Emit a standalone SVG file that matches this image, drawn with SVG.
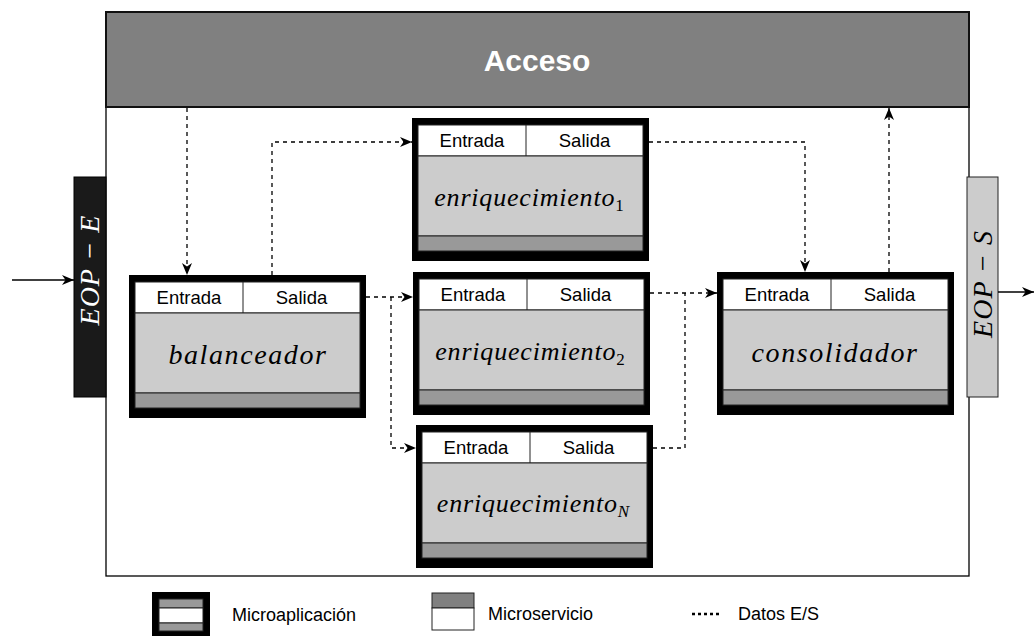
<svg xmlns="http://www.w3.org/2000/svg" width="1034" height="637" viewBox="0 0 1034 637">
<style>
.ma{fill:#000}
.hd{fill:#fff;stroke:#222;stroke-width:1}
.bd{fill:#ccc;stroke:#222;stroke-width:1}
.st{fill:#999;stroke:#222;stroke-width:1}
.io{font-family:"Liberation Sans",Arial,sans-serif;font-size:18.5px;fill:#000;text-anchor:middle}
.mt{font-family:"Liberation Serif","Times New Roman",serif;font-style:italic;font-size:26px;letter-spacing:0.8px;fill:#000;text-anchor:middle}
.sub{font-style:normal;font-size:17px;letter-spacing:0}
.dash{fill:none;stroke:#000;stroke-width:1.3;stroke-dasharray:4 4}
.solid{fill:none;stroke:#000;stroke-width:1.3}
.lg{font-family:"Liberation Sans",Arial,sans-serif;font-size:18px;fill:#000}
.eop{font-family:"Liberation Serif","Times New Roman",serif;font-style:italic;font-size:28px;letter-spacing:1px;text-anchor:middle}
</style>
<defs>
<marker id="ah" markerUnits="userSpaceOnUse" markerWidth="14" markerHeight="12" refX="12" refY="5" orient="auto">
<path d="M0,0 L12,5 L0,10 L3.5,5 z" fill="#000"/>
</marker>
</defs>
<g id="acceso">
<rect x="106" y="106" width="863" height="470" fill="#fff" stroke="#000" stroke-width="1.3"/>
<rect x="106" y="12" width="863" height="95" fill="#808080" stroke="#111" stroke-width="2"/>
<text x="537" y="71" font-family="Liberation Sans,Arial,sans-serif" font-weight="bold" font-size="30" fill="#fff" text-anchor="middle">Acceso</text>
</g>
<g id="eop-e">
<rect x="74" y="177" width="32" height="220" fill="#1a1a1a" stroke="#000" stroke-width="1"/>
<text class="eop" transform="translate(99,270) rotate(-90)" fill="#fff">EOP − E</text>
</g>
<g id="eop-s">
<rect x="967" y="177" width="31" height="220" fill="#ccc" stroke="#222" stroke-width="1"/>
<text class="eop" transform="translate(992,284) rotate(-90)" fill="#000">EOP − S</text>
</g>
<g id="balanceador">
<rect class="ma" x="129" y="275" width="237" height="143"/>
<rect class="hd" x="135" y="282" width="225" height="31"/>
<line x1="243" y1="282" x2="243" y2="313" stroke="#222" stroke-width="1"/>
<rect class="bd" x="135" y="313" width="225" height="80"/>
<rect class="st" x="135" y="393" width="225" height="15"/>
<text class="io" x="189" y="304">Entrada</text>
<text class="io" x="301.5" y="304">Salida</text>
<text class="mt" x="248" y="364" style="font-size:28px;letter-spacing:1.6px">balanceador</text>
</g>
<g id="enriquecimiento1">
<rect class="ma" x="412" y="118" width="237" height="143"/>
<rect class="hd" x="418" y="125" width="225" height="31"/>
<line x1="526" y1="125" x2="526" y2="156" stroke="#222" stroke-width="1"/>
<rect class="bd" x="418" y="156" width="225" height="80"/>
<rect class="st" x="418" y="236" width="225" height="15"/>
<text class="io" x="472" y="147">Entrada</text>
<text class="io" x="584.5" y="147">Salida</text>
<text class="mt" x="529" y="206">enriquecimiento<tspan class="sub" dy="5">1</tspan></text>
</g>
<g id="enriquecimiento2">
<rect class="ma" x="413" y="272" width="237" height="143"/>
<rect class="hd" x="419" y="279" width="225" height="31"/>
<line x1="527" y1="279" x2="527" y2="310" stroke="#222" stroke-width="1"/>
<rect class="bd" x="419" y="310" width="225" height="80"/>
<rect class="st" x="419" y="390" width="225" height="15"/>
<text class="io" x="473" y="301">Entrada</text>
<text class="io" x="585.5" y="301">Salida</text>
<text class="mt" x="530" y="360">enriquecimiento<tspan class="sub" dy="5">2</tspan></text>
</g>
<g id="enriquecimientoN">
<rect class="ma" x="416" y="425" width="237" height="143"/>
<rect class="hd" x="422" y="432" width="225" height="31"/>
<line x1="530" y1="432" x2="530" y2="463" stroke="#222" stroke-width="1"/>
<rect class="bd" x="422" y="463" width="225" height="80"/>
<rect class="st" x="422" y="543" width="225" height="15"/>
<text class="io" x="476" y="454">Entrada</text>
<text class="io" x="588.5" y="454">Salida</text>
<text class="mt" x="533" y="512">enriquecimiento<tspan class="sub" dy="5" style="font-style:italic">N</tspan></text>
</g>
<g id="consolidador">
<rect class="ma" x="717" y="272" width="237" height="143"/>
<rect class="hd" x="723" y="279" width="225" height="31"/>
<line x1="831" y1="279" x2="831" y2="310" stroke="#222" stroke-width="1"/>
<rect class="bd" x="723" y="310" width="225" height="80"/>
<rect class="st" x="723" y="390" width="225" height="15"/>
<text class="io" x="777" y="301">Entrada</text>
<text class="io" x="889.5" y="301">Salida</text>
<text class="mt" x="835" y="362" style="font-size:28px;letter-spacing:1.6px">consolidador</text>
</g>
<g id="connectors">
<path class="solid" d="M12,280 H74" marker-end="url(#ah)"/>
<path class="solid" d="M998,292 H1034" marker-end="url(#ah)"/>
<path class="dash" d="M187,108 V275" marker-end="url(#ah)"/>
<path class="dash" d="M272,275 V142 H412" marker-end="url(#ah)"/>
<path class="dash" d="M366,297 H413" marker-end="url(#ah)"/>
<path class="dash" d="M391,297 V448 H416" marker-end="url(#ah)"/>
<path class="dash" d="M649,142 H805 V272" marker-end="url(#ah)"/>
<path class="dash" d="M650,293 H717" marker-end="url(#ah)"/>
<path class="dash" d="M653,448 H685 V293"/>
<path class="dash" d="M889,272 V108" marker-end="url(#ah)"/>
</g>
<g id="legend">
<rect x="152" y="592" width="58" height="44" fill="#000"/>
<rect x="159" y="599" width="44" height="9" fill="#999" stroke="#222" stroke-width="1"/>
<rect x="159" y="608" width="44" height="15" fill="#fff" stroke="#222" stroke-width="1"/>
<rect x="159" y="623" width="44" height="8" fill="#999" stroke="#222" stroke-width="1"/>
<text class="lg" x="232" y="621">Microaplicación</text>
<rect x="432" y="593" width="42" height="15" fill="#808080" stroke="#222" stroke-width="1"/>
<rect x="432" y="608" width="42" height="22" fill="#fff" stroke="#222" stroke-width="1"/>
<text class="lg" x="488" y="620">Microservicio</text>
<line x1="692" y1="614" x2="721" y2="614" stroke="#000" stroke-width="2.5" stroke-dasharray="3 3"/>
<text class="lg" x="738" y="620">Datos E/S</text>
</g>
</svg>
